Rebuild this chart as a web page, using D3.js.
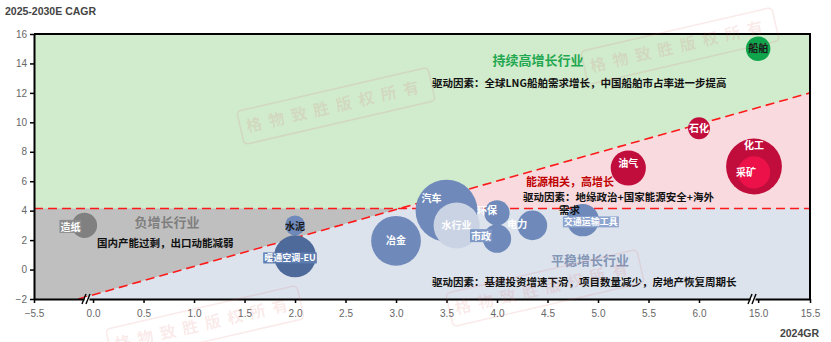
<!DOCTYPE html>
<html>
<head>
<meta charset="utf-8">
<script src="https://cdn.jsdelivr.net/npm/d3@7"></script>
<style>
body { margin: 0; background: #fff; }
text { font-family: "Liberation Sans", Arial, sans-serif; }
.cn { font-family: "Noto Sans CJK SC", sans-serif; font-weight: bold; }
</style>
</head>
<body>
<svg id="chart" width="831" height="342"></svg>
<script>
// data
const industries = ["船舶", "石化", "化工", "采矿", "油气", "汽车", "水行业", "冶金", "环保", "市政", "电力", "交通运输工具", "水泥", "暖通空调-EU", "造纸"];
const gr2024 = [15.0, 6.0, 14.93, 14.93, 5.3, 3.5, 3.6, 3.0, 4.0, 4.0, 4.35, 4.85, 2.0, 2.0, -5.0];
const cagr = [15.0, 9.6, 7.0, 6.6, 6.9, 4.0, 3.0, 1.95, 3.85, 2.1, 3.0, 3.35, 3.0, 0.9, 3.0];
const marketSize = [15, 12, 78, 26, 31, 96, 53, 62, 16, 20, 22, 26, 10, 44, 16];

const xTicks = [-5.5, 0, 0.5, 1, 1.5, 2, 2.5, 3, 3.5, 4, 4.5, 5, 5.5, 6, 15, 15.5];
const yTicks = [-2, 0, 2, 4, 6, 8, 10, 12, 14, 16];
const cagrThreshold = 4.15;
const diagLine = [{x: 0, y: -1.72}, {x: 15.5, y: 12}];

const width = 831, height = 342;
const margin = {top: 34, right: 21, bottom: 43, left: 34};
const svg = d3.select('#chart');

// broken x axis: -5.5 | 0 .. 6 | 15 .. 15.5
const x = d3.scaleLinear()
    .domain([-5.5, -4.97, -0.04, 6, 6.53, 14.96, 15.5])
    .range([34, 87.5, 89, 699, 752.5, 754, width - margin.right]);
const y = d3.scaleLinear()
    .domain([-2, 16])
    .range([height - margin.bottom, margin.top]);
const r = d3.scaleSqrt().domain([0, 100]).range([0, 31.6]);

const x0 = margin.left, x1 = width - margin.right;
const yTop = margin.top, yBot = height - margin.bottom;
const yH = y(cagrThreshold);

// diagonal in pixel space
const p0 = [x(diagLine[0].x), y(diagLine[0].y)];
const p1 = [x(diagLine[1].x), y(diagLine[1].y)];
const slope = (p1[1] - p0[1]) / (p1[0] - p0[0]);
const atY = yy => p0[0] + (yy - p0[1]) / slope;
const dStart = [atY(yBot), yBot];
const xi = atY(yH);

// zones
svg.append('rect').attr('x', x0).attr('y', yTop).attr('width', x1 - x0).attr('height', yBot - yTop)
    .attr('fill', '#d1ebcd');
const zone = (pts, fill) => svg.append('polygon').attr('points', pts.map(d => d.join(',')).join(' ')).attr('fill', fill);
zone([[xi, yH], [x1, p1[1]], [x1, yH]], '#f9dbdf');
zone([[x0, yH], [xi, yH], dStart, [x0, yBot]], '#bfbfbf');
zone([dStart, [xi, yH], [x1, yH], [x1, yBot]], '#dde3ed');

// reference lines
svg.append('line').attr('x1', x0).attr('x2', x1).attr('y1', yH).attr('y2', yH)
    .attr('stroke', '#ff1a1a').attr('stroke-width', 1.6).attr('stroke-dasharray', '9,5');
svg.append('line').attr('x1', dStart[0]).attr('y1', dStart[1]).attr('x2', p1[0]).attr('y2', p1[1])
    .attr('stroke', '#ff1a1a').attr('stroke-width', 1.6).attr('stroke-dasharray', '9,5');

// bubble styles
const bubbleColor = {
    '船舶': '#10a54c', '石化': '#c10d3c', '化工': '#c10d3c', '采矿': '#ec1249', '油气': '#c10d3c',
    '汽车': '#6f8aba', '水行业': '#c9d3e4', '冶金': '#6f8aba', '环保': '#6f8aba', '市政': '#6f8aba',
    '电力': '#6f8aba', '交通运输工具': '#6f8aba', '水泥': '#6f8aba', '暖通空调-EU': '#4d6a9a', '造纸': '#808080'
};
const labelStyle = {
    '船舶': {dx: 0, dy: 0, fill: '#1a1a1a'},
    '石化': {dx: 0, dy: 0},
    '化工': {dx: 0, dy: -21},
    '采矿': {dx: -8, dy: 0, weight: 'normal'},
    '油气': {dx: 0, dy: -4},
    '汽车': {dx: -15, dy: -12},
    '水行业': {dx: 0, dy: 0, weight: 'normal'},
    '冶金': {dx: 0, dy: 0, weight: 'normal'},
    '环保': {dx: -10, dy: -2},
    '市政': {dx: -16, dy: -2, box: '#7f98c6'},
    '电力': {dx: -15, dy: -1},
    '交通运输工具': {dx: 8, dy: 2, box: '#8ea5cf', size: 9, weight: 'normal'},
    '水泥': {dx: 0, dy: 1, fill: '#1a1a1a'},
    '暖通空调-EU': {dx: -5, dy: 2, box: '#5d7cb0', size: 9, weight: 'normal'},
    '造纸': {dx: -14, dy: 2, box: '#8c8c8c'}
};

const data = industries.map((name, i) => ({name, gx: gr2024[i], gy: cagr[i], size: marketSize[i]}));
const drawOrder = ['汽车', '水行业', '冶金', '环保', '市政', '电力', '交通运输工具', '水泥', '暖通空调-EU', '造纸', '化工', '采矿', '油气', '石化', '船舶'];
const ordered = drawOrder.map(n => data.find(d => d.name === n));

svg.append('g').selectAll('circle')
    .data(ordered)
    .enter()
    .append('circle')
    .attr('cx', d => x(d.gx))
    .attr('cy', d => y(d.gy))
    .attr('r', d => r(d.size))
    .attr('fill', d => bubbleColor[d.name]);

const labels = svg.append('g');
ordered.forEach(d => {
    const s = labelStyle[d.name];
    const g = labels.append('g').attr('transform', `translate(${x(d.gx) + s.dx},${y(d.gy) + s.dy})`);
    const t = g.append('text').attr('class', 'cn')
        .attr('text-anchor', 'middle').attr('dy', '0.35em')
        .attr('font-size', s.size || 10)
        .attr('font-weight', s.weight || 'bold')
        .attr('fill', s.fill || '#fff')
        .text(d.name);
    if (s.box) {
        const b = t.node().getBBox();
        g.insert('rect', 'text').attr('x', b.x - 1).attr('y', b.y + 1).attr('width', b.width + 2).attr('height', b.height - 2)
            .attr('fill', s.box);
    }
});

// zone titles and notes (on top of bubbles)
const note = (tx, ty, str, size, fill, anchor) => svg.append('text').attr('class', 'cn')
    .attr('x', tx).attr('y', ty).attr('font-size', size).attr('fill', fill)
    .attr('text-anchor', anchor || 'start').text(str);
note(538, 65, '持续高增长行业', 13, '#1fa84f', 'middle');
note(432, 87, '驱动因素：全球LNG船舶需求增长，中国船舶市占率进一步提高', 10.5, '#111');
note(526, 186, '能源相关，高增长', 11, '#c00000');
note(523, 201, '驱动因素：地缘政治+国家能源安全+海外', 10.5, '#111');
note(559, 214, '需求', 10.5, '#111');
note(167, 227, '负增长行业', 13, '#7f7f7f', 'middle');
note(97, 247, '国内产能过剩，出口动能减弱', 10.5, '#111');
note(590, 265, '平稳增长行业', 13, '#8496b6', 'middle');
note(432, 286, '驱动因素：基建投资增速下滑，项目数量减少，房地产恢复周期长', 10.5, '#111');

// axes
const xAxis = svg.append('g').attr('transform', `translate(0,${yBot})`)
    .call(d3.axisBottom(x).tickValues(xTicks).tickFormat(d3.format('.1f')).tickSize(4).tickSizeOuter(0));
const yAxis = svg.append('g').attr('transform', `translate(${x0},0)`)
    .call(d3.axisLeft(y).tickValues(yTicks).tickSize(4).tickSizeOuter(0));
[xAxis, yAxis].forEach(a => {
    a.select('.domain').attr('stroke', '#000').attr('stroke-width', 2);
    a.selectAll('.tick line').attr('stroke', '#000').attr('stroke-width', 1.5);
    a.selectAll('.tick text').attr('fill', '#666').attr('font-size', 10)
        .attr('font-family', '"Liberation Sans", Arial, sans-serif');
});
xAxis.selectAll('.tick text').attr('dy', '1.1em');
svg.append('line').attr('x1', x0).attr('x2', x1 + 1).attr('y1', yTop).attr('y2', yTop).attr('stroke', '#000').attr('stroke-width', 2);
svg.append('line').attr('x1', x1).attr('x2', x1).attr('y1', yTop).attr('y2', yBot).attr('stroke', '#000').attr('stroke-width', 2);

// axis break marks
[x(-4.99) + 1, x(6.55)].forEach(bx => {
    const g = svg.append('g').attr('transform', `translate(${bx},${yBot})`);
    g.append('rect').attr('x', -2).attr('y', -2).attr('width', 5).attr('height', 4).attr('fill', '#fff');
    [-2, 2].forEach(o => g.append('line')
        .attr('x1', o - 2.5).attr('y1', 5).attr('x2', o + 1.5).attr('y2', -5)
        .attr('stroke', '#000').attr('stroke-width', 1.4));
});

// axis titles
svg.append('text').attr('x', 5).attr('y', 15).attr('font-size', 10.5).attr('font-weight', 'bold')
    .attr('fill', '#444').text('2025-2030E CAGR');
svg.append('text').attr('x', 819).attr('y', 337).attr('text-anchor', 'end').attr('font-size', 10.5)
    .attr('font-weight', 'bold').attr('fill', '#444').text('2024GR');

// watermarks
const marks = [[336, 106], [680, 46], [545, 288], [205, 324]];
marks.forEach(([mx, my]) => {
    const g = svg.append('g').attr('transform', `translate(${mx},${my}) rotate(-13)`);
    g.append('rect').attr('x', -98).attr('y', -17).attr('width', 196).attr('height', 34).attr('rx', 4)
        .attr('fill', 'none').attr('stroke', 'rgba(215,90,90,0.13)').attr('stroke-width', 1.5);
    g.append('text').attr('class', 'cn').attr('text-anchor', 'middle').attr('dy', '0.35em')
        .attr('font-size', 16).attr('letter-spacing', 7).attr('fill', 'rgba(215,90,90,0.13)')
        .text('格物致胜版权所有');
});
</script>
</body>
</html>
